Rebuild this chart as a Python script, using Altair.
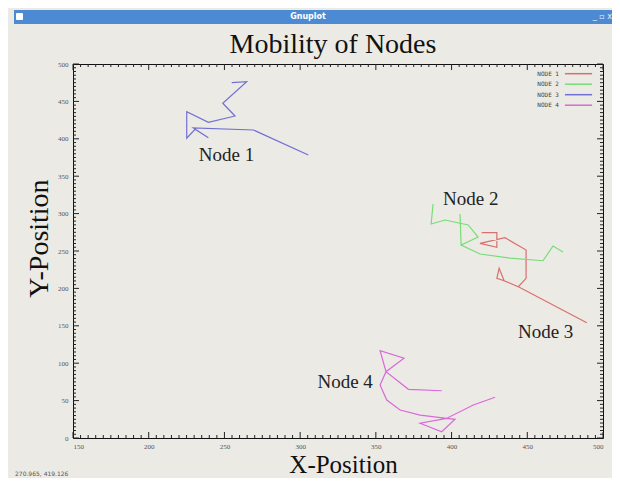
import altair as alt
import pandas as pd

# ---- data ----
series = ["NODE 1", "NODE 2", "NODE 3", "NODE 4"]
colors = ["#D8706E", "#78DC78", "#7070D4", "#D86AD8"]

node1_x = [419.9, 429.9, 429.9, 418.8, 435.3, 449.2, 449.2, 444.1, 434.7, 429.9, 431.4, 434.7, 444.1, 489.3]
node1_y = [274.5, 274.5, 255.0, 260.3, 267.8, 251.3, 213.5, 202.3, 210.3, 213.5, 226.9, 210.3, 202.3, 154.1]

node2_x = [387.8, 386.5, 395.7, 411.0, 417.5, 406.3, 405.6, 406.3, 418.8, 438.6, 460.4, 467.0, 473.6]
node2_y = [312.8, 286.1, 291.4, 284.8, 268.7, 258.0, 299.5, 258.0, 246.0, 240.6, 237.0, 256.7, 248.7]

node3_x = [305.4, 269.1, 229.5, 239.4, 230.6, 225.1, 225.1, 239.4, 257.0, 248.9, 264.7, 254.8]
node3_y = [378.3, 411.8, 414.5, 401.5, 412.7, 400.7, 436.2, 422.1, 430.5, 447.5, 476.3, 475.0]

node4_x = [393.5, 371.5, 356.7, 352.8, 368.6, 356.7, 352.8, 357.2, 366.0, 379.2, 396.8, 379.2, 393.5, 402.3, 396.8, 414.4, 428.7]
node4_y = [63.2, 65.1, 88.6, 116.7, 106.6, 88.6, 70.9, 50.8, 37.4, 30.7, 26.3, 19.7, 8.4, 25.0, 26.3, 44.1, 54.4]

label_text = ["Node 1", "Node 2", "Node 3", "Node 4"]
label_x = [251.4, 412.7, 462.1, 329.7]
label_y = [370.7, 311.5, 133.3, 66.4]

x_major = list(range(150, 501, 50))
x_minor = [v for v in range(150, 501, 5) if v % 50]
y_major = list(range(0, 501, 50))
y_minor = [v for v in range(0, 501, 5) if v % 50]

# ---- tables ----
rows = []
for name, xs, ys in zip(series, [node1_x, node2_x, node3_x, node4_x],
                        [node1_y, node2_y, node3_y, node4_y]):
    for i, (a, b) in enumerate(zip(xs, ys)):
        rows.append({"node": name, "step": i, "x": a, "y": b})
lines_df = pd.DataFrame(rows)
labels_df = pd.DataFrame({"label": label_text, "x": label_x, "y": label_y})

W, H = 530, 374
BG = "#ECEAE5"
SERIF = "Liberation Serif"

xscale = alt.Scale(domain=[150, 500], nice=False, zero=False)
yscale = alt.Scale(domain=[0, 500], nice=False, zero=False)

xaxis = alt.Axis(values=x_major, ticks=False, tickSize=0, domain=False, grid=False,
                 labelFont=SERIF, labelFontSize=7, labelColor="#555", labelPadding=4,
                 title="X-Position", titleFont=SERIF, titleFontSize=25,
                 titleFontWeight="normal", titleColor="#111", titleX=270, titleY=34.8,
                 titleBaseline="alphabetic", titleAlign="center")
yaxis = alt.Axis(values=y_major, ticks=False, tickSize=0, domain=False, grid=False,
                 labelFont=SERIF, labelFontSize=7, labelColor="#555", labelPadding=5,
                 title="Y-Position", titleFont=SERIF, titleFontSize=28,
                 titleFontWeight="normal", titleColor="#111", titleX=-26, titleY=174,
                 titleBaseline="alphabetic", titleAlign="center")


def X():
    return alt.X("x:Q", scale=xscale, axis=xaxis)


def Y():
    return alt.Y("y:Q", scale=yscale, axis=yaxis)


layers = []

# window decoration (screenshot chrome)
one = alt.Data(values=[{}])
layers.append(alt.Chart(one).mark_rect(color="#4C8BD3").encode(
    x=alt.value(-59), x2=alt.value(539), y=alt.value(-54), y2=alt.value(-40)))
layers.append(alt.Chart(one).mark_rect(color="white", cornerRadius=1).encode(
    x=alt.value(-57), x2=alt.value(-50), y=alt.value(-51), y2=alt.value(-44)))
layers.append(alt.Chart(one).mark_text(text="Gnuplot", color="white", fontSize=8,
                                       font="DejaVu Sans", fontWeight="bold").encode(
    x=alt.value(235), y=alt.value(-47)))
layers.append(alt.Chart(one).mark_text(text="_ ▫ x", color="#E8F0FA", fontSize=8,
                                       font="DejaVu Sans", align="right").encode(
    x=alt.value(539), y=alt.value(-47)))
layers.append(alt.Chart(one).mark_text(text="270.965,  419.126", color="#555", fontSize=6,
                                       font="DejaVu Sans", align="left").encode(
    x=alt.value(-58), y=alt.value(410)))

# inward ticks on all four sides
for vals, ln in [(x_major, 6), (x_minor, 3)]:
    d = pd.DataFrame({"x": vals})
    layers.append(alt.Chart(d).mark_rule(color="#222", strokeWidth=1).encode(
        x=X(), y=alt.value(H), y2=alt.value(H - ln)))
    layers.append(alt.Chart(d).mark_rule(color="#222", strokeWidth=1).encode(
        x=X(), y=alt.value(0), y2=alt.value(ln)))
for vals, ln in [(y_major, 6), (y_minor, 3)]:
    d = pd.DataFrame({"y": vals})
    layers.append(alt.Chart(d).mark_rule(color="#222", strokeWidth=1).encode(
        y=Y(), x=alt.value(0), x2=alt.value(ln)))
    layers.append(alt.Chart(d).mark_rule(color="#222", strokeWidth=1).encode(
        y=Y(), x=alt.value(W), x2=alt.value(W - ln)))

# trajectories
layers.append(alt.Chart(lines_df).mark_line(strokeWidth=1.2).encode(
    x=X(), y=Y(),
    color=alt.Color("node:N", scale=alt.Scale(domain=series, range=colors),
                    legend=alt.Legend(title=None, orient="none", legendX=500.5, legendY=4.7,
                                      padding=0, symbolType="M-3.4,0H3.4", symbolSize=64,
                                      symbolStrokeWidth=1.5,
                                      labelAlign="left", labelBaseline="middle",
                                      labelOffset=alt.ExprRef("-46.2"),
                                      labelFont="DejaVu Sans Mono",
                                      labelFontSize=6, labelColor="#444", rowPadding=2.5)),
    order="step:Q"))

# node annotations
layers.append(alt.Chart(labels_df).mark_text(font=SERIF, fontSize=19, color="#222",
                                             baseline="alphabetic", align="center").encode(
    x=X(), y=Y(), text="label:N"))

chart = alt.layer(*layers).properties(
    width=W, height=H,
    padding={"left": 65, "top": 56, "right": 9, "bottom": 40},
    autosize=alt.AutoSizeParams(type="none"),
    title=alt.Title("Mobility of Nodes", font=SERIF, fontSize=28, fontWeight="normal",
                    color="#111", offset=7, baseline="alphabetic", frame="group",
                    anchor="middle", dx=-5, dy=78),
    background=BG,
).configure_view(stroke="#111", strokeWidth=1)

chart.save("out.html", embed_options={"renderer": "svg", "actions": False})
